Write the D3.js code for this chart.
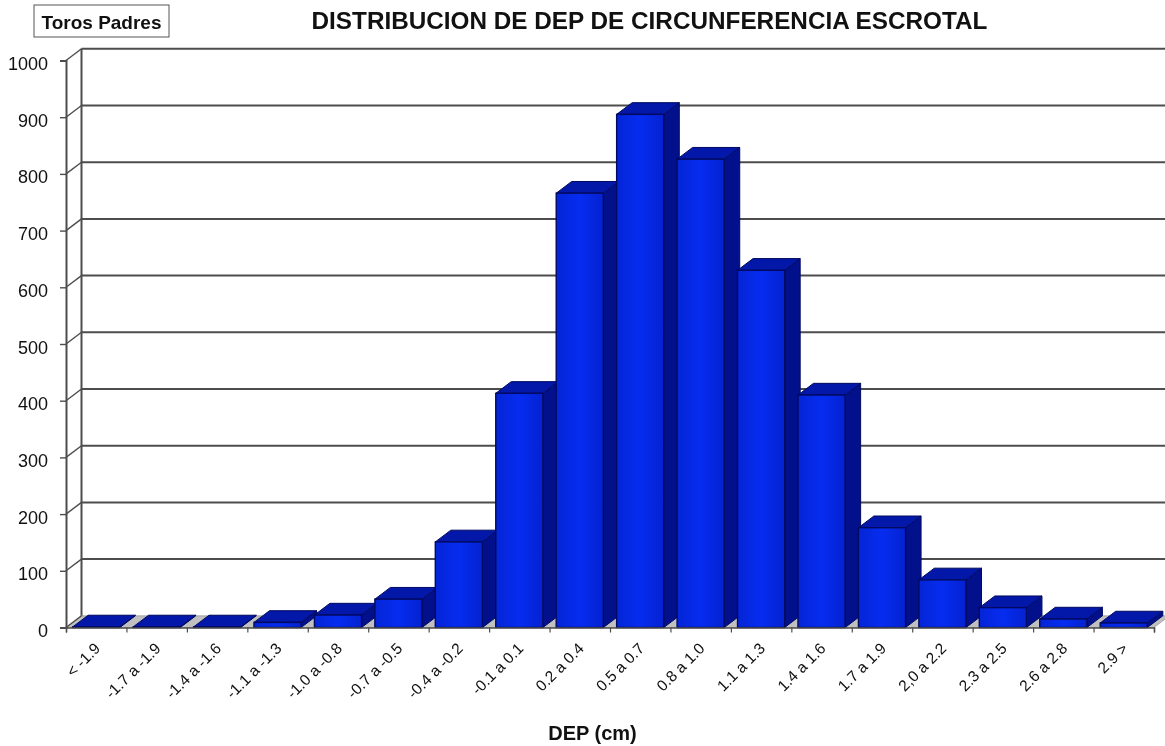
<!DOCTYPE html>
<html lang="en">
<head>
<meta charset="utf-8">
<title>Distribucion de DEP</title>
<script src="https://cdn.jsdelivr.net/npm/d3@7"></script>
<style>
html,body{margin:0;padding:0;background:#fff;}
svg{display:block;filter:blur(0.4px);}
text{font-family:"Liberation Sans",Arial,sans-serif;fill:#111;}
</style>
</head>
<body>
<script>
var categories = ["< -1.9","-1.7 a -1.9","-1.4 a -1.6","-1.1 a -1.3","-1.0 a -0.8","-0.7 a -0.5","-0.4 a -0.2","-0.1 a 0.1","0.2 a 0.4","0.5 a 0.7","0.8 a 1.0","1.1 a 1.3","1.4 a 1.6","1.7 a 1.9","2,0 a 2.2","2.3 a 2.5","2.6 a 2.8","2.9 >"]
var counts = [1,1,1,9,22,50,151,413,766,905,826,630,410,176,84,35,15,8]
var yTicks = [0,100,200,300,400,500,600,700,800,900,1000]

var w = 1165, h = 746
var x0 = 66, x1 = 1154, y0 = 627.5, y1 = 60.5
var dx = 15.5, dy = 11.7   // 3d depth

var svg = d3.select("body").append("svg").attr("width",w).attr("height",h)

var x = d3.scaleBand().domain(categories).range([x0,x1]).paddingInner(0.22).paddingOuter(0.11)
var edges = d3.scaleLinear().domain([0,categories.length]).range([x0,x1])
var y = d3.scaleLinear().domain([0,1000]).range([y0,y1])

var grad = svg.append("defs").append("linearGradient").attr("id","front")
grad.append("stop").attr("offset","0%").attr("stop-color","#0425d6")
grad.append("stop").attr("offset","50%").attr("stop-color","#062cf0")
grad.append("stop").attr("offset","100%").attr("stop-color","#0422d0")

// floor
svg.append("polygon")
	.attr("points",[[x0,y0],[x1,y0],[x1+dx,y0-dy],[x0+dx,y0-dy]].join(" "))
	.attr("fill","#c0c0c0").attr("stroke","#777").attr("stroke-width",0.5)

// walls and gridlines
var gridCol = "#4d4d4d"
svg.selectAll(".grid").data(yTicks.slice(1)).enter().append("line")
	.attr("x1",x0+dx).attr("x2",w)
	.attr("y1",function(d){return y(d)-dy}).attr("y2",function(d){return y(d)-dy})
	.attr("stroke",gridCol).attr("stroke-width",2)
svg.selectAll(".slant").data(yTicks).enter().append("line")
	.attr("x1",x0).attr("x2",x0+dx)
	.attr("y1",function(d){return y(d)}).attr("y2",function(d){return y(d)-dy})
	.attr("stroke",gridCol).attr("stroke-width",1.4)
svg.append("line").attr("x1",x0+dx).attr("x2",x0+dx).attr("y1",y(1000)-dy).attr("y2",y0-dy)
	.attr("stroke",gridCol).attr("stroke-width",2)

// bars, left to right so the next front covers the side
var bars = svg.selectAll(".bar").data(counts).enter().append("g").attr("class","bar")
var bw = x.bandwidth()
function bx(i){return x(categories[i])}
var edge = "#000a60"
bars.append("polygon")
	.attr("points",function(d,i){var a=bx(i)+bw;return [[a,y(d)],[a+dx,y(d)-dy],[a+dx,y0-dy],[a,y0]].join(" ")})
	.attr("fill","#02108c").attr("stroke",edge).attr("stroke-width",1)
bars.append("polygon")
	.attr("points",function(d,i){var a=bx(i);return [[a,y(d)],[a+bw,y(d)],[a+bw+dx,y(d)-dy],[a+dx,y(d)-dy]].join(" ")})
	.attr("fill","#0317a8").attr("stroke",edge).attr("stroke-width",1)
bars.append("rect")
	.attr("x",function(d,i){return bx(i)}).attr("y",function(d){return y(d)})
	.attr("width",bw).attr("height",function(d){return y0-y(d)})
	.attr("fill","url(#front)").attr("stroke",edge).attr("stroke-width",1.4)

// y axis
var yAxis = d3.axisLeft(y).tickValues(yTicks).tickFormat(d3.format("d")).tickSize(6).tickPadding(12)
var gy = svg.append("g").attr("transform","translate("+x0+",0)").call(yAxis)
gy.selectAll("text").style("font-size","18px").attr("dy","0.5em")
gy.selectAll("line").attr("stroke",gridCol).attr("stroke-width",1.4)
gy.select(".domain").attr("stroke",gridCol).attr("stroke-width",2)

// x axis: ticks on the category edges, labels on the centres
var xTicks = d3.axisBottom(edges).tickValues(d3.range(categories.length+1)).tickFormat("").tickSize(5)
var gt = svg.append("g").attr("transform","translate(0,"+y0+")").call(xTicks)
gt.selectAll("line").attr("stroke",gridCol).attr("stroke-width",1.2)
gt.select(".domain").attr("stroke",gridCol).attr("stroke-width",1.5)

var xLabels = d3.axisBottom(x).tickSize(0).tickPadding(0)
var gx = svg.append("g").attr("transform","translate(0,"+y0+")").call(xLabels)
gx.select(".domain").remove()
gx.selectAll("text")
	.attr("text-anchor","end").attr("dy",null).attr("y",null)
	.attr("transform","translate(5,22) rotate(-45)")
	.style("font-size","15.5px")

// titles
svg.append("text").attr("x",649.5).attr("y",28.5).attr("text-anchor","middle")
	.attr("font-weight","bold").style("font-size","24.3px")
	.text("DISTRIBUCION DE DEP DE CIRCUNFERENCIA ESCROTAL")
svg.append("text").attr("x",592.5).attr("y",740).attr("text-anchor","middle")
	.attr("font-weight","bold").style("font-size","20px").text("DEP (cm)")
svg.append("rect").attr("x",34).attr("y",5).attr("width",135).attr("height",32)
	.attr("fill","#fff").attr("stroke","#555").attr("stroke-width",1)
svg.append("text").attr("x",101.5).attr("y",29).attr("text-anchor","middle")
	.attr("font-weight","bold").style("font-size","19px").text("Toros Padres")
</script>
</body>
</html>
